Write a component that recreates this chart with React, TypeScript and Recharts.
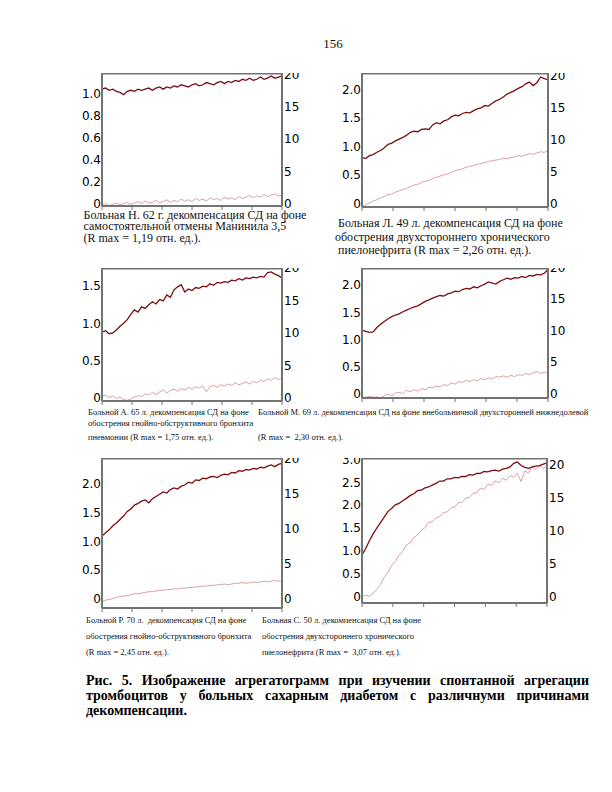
import { LineChart, Line, XAxis, YAxis, ReferenceLine } from 'recharts';

// samples are 6 s apart, 51 samples = 300 s record
const TIME_STEP = 6;
const xTicks = [0, 50, 100, 150, 200, 250, 300];
const rightTicks = [0, 5, 10, 15, 20];

const leftTicksA = [0, 0.2, 0.4, 0.6, 0.8, 1.0];
const leftTicksB = [0, 0.5, 1.0, 1.5, 2.0];
const leftTicksC = [0, 0.5, 1.0, 1.5];
const leftTicksD = [0, 0.5, 1.0, 1.5, 2.0, 2.5, 3.0];

// dark trace = degree of aggregation (left axis), light trace = right axis
const dark1 = [1.04, 1.05, 1.03, 1.04, 1.02, 1.01, 0.99, 1.02, 1.03, 1.02,
  1.04, 1.03, 1.04, 1.05, 1.03, 1.05, 1.06, 1.04, 1.06, 1.05,
  1.07, 1.06, 1.08, 1.07, 1.06, 1.08, 1.09, 1.07, 1.08, 1.10,
  1.09, 1.08, 1.10, 1.11, 1.09, 1.11, 1.10, 1.12, 1.11, 1.13,
  1.12, 1.14, 1.12, 1.13, 1.15, 1.13, 1.14, 1.16, 1.14, 1.15, 1.16];
const light1 = [-0.2, 0.0, -0.3, -0.1, 0.1, -0.2, 0.0, 0.2, -0.1, 0.1,
  0.3, 0.0, 0.4, 0.1, 0.2, 0.5, 0.1, 0.3, 0.6, 0.2,
  0.5, 0.3, 0.7, 0.4, 0.6, 0.3, 0.8, 0.5, 0.7, 0.4,
  0.9, 0.6, 0.8, 0.5, 1.0, 0.7, 0.9, 0.6, 1.1, 0.8,
  1.0, 1.3, 0.9, 1.2, 1.0, 1.4, 1.1, 1.3, 1.5, 1.2, 1.3];

const dark2 = [0.81, 0.79, 0.84, 0.86, 0.90, 0.93, 0.98, 1.04, 1.06, 1.10, 1.13,
  1.16, 1.20, 1.25, 1.27, 1.26, 1.30, 1.31, 1.30, 1.38, 1.42,
  1.40, 1.45, 1.47, 1.52, 1.55, 1.54, 1.58, 1.60, 1.59, 1.63,
  1.66, 1.68, 1.72, 1.71, 1.76, 1.80, 1.83, 1.87, 1.92, 1.95,
  1.98, 2.02, 2.05, 2.10, 2.13, 2.07, 2.12, 2.22, 2.19, 2.17];
const light2 = [-0.5, -0.2, 0.1, 0.4, 0.6, 0.9, 1.1, 1.4, 1.5, 1.8, 2.0,
  2.2, 2.4, 2.6, 2.9, 3.0, 3.3, 3.5, 3.6, 3.9, 4.1,
  4.3, 4.5, 4.6, 4.9, 5.1, 5.3, 5.4, 5.7, 5.8, 6.0,
  6.1, 6.3, 6.4, 6.6, 6.7, 6.8, 6.9, 7.1, 7.0, 7.2,
  7.3, 7.5, 7.4, 7.6, 7.8, 7.7, 7.9, 8.1, 8.0, 8.3];

const dark3 = [0.88, 0.90, 0.86, 0.87, 0.91, 0.96, 1.00, 1.05, 1.12, 1.18, 1.15,
  1.22, 1.20, 1.25, 1.29, 1.26, 1.32, 1.30, 1.38, 1.35, 1.45,
  1.49, 1.52, 1.42, 1.46, 1.44, 1.48, 1.47, 1.50, 1.49, 1.53,
  1.51, 1.55, 1.54, 1.56, 1.55, 1.58, 1.57, 1.60, 1.58, 1.61,
  1.60, 1.62, 1.61, 1.63, 1.62, 1.68, 1.69, 1.66, 1.64, 1.61];
const light3 = [0.2, 0.4, 0.0, 0.3, -0.1, 0.1, -0.3, -0.4, -0.2, 0.1, 0.3,
  0.2, 0.6, 0.4, 0.8, 0.5, 0.9, 1.2, 0.7, 1.1, 1.3,
  1.0, 1.4, 1.2, 1.6, 1.3, 1.7, 1.5, 1.8, 0.9, 1.7,
  1.9, 1.6, 2.0, 1.8, 2.1, 1.9, 2.3, 2.0, 2.2, 2.4,
  2.1, 2.5, 2.3, 2.7, 2.5, 2.9, 2.7, 3.1, 2.8, 3.0];

const dark4 = [1.17, 1.15, 1.13, 1.14, 1.22, 1.28, 1.33, 1.38, 1.42, 1.45, 1.47,
  1.51, 1.54, 1.57, 1.60, 1.62, 1.66, 1.70, 1.73, 1.76, 1.79,
  1.81, 1.80, 1.84, 1.86, 1.89, 1.88, 1.92, 1.94, 1.93, 1.97,
  1.95, 1.99, 2.02, 2.06, 2.04, 2.02, 2.07, 2.10, 2.13, 2.11,
  2.14, 2.13, 2.16, 2.14, 2.18, 2.17, 2.20, 2.19, 2.22, 2.29];
const light4 = [-0.5, -0.6, -0.4, -0.6, -0.5, -0.7, -0.3, -0.1, -0.4, 0.1, 0.2,
  0.0, 0.5, 0.3, 0.6, 0.4, 0.8, 0.6, 1.0, 0.9, 1.2,
  1.1, 1.4, 1.3, 1.7, 1.5, 1.9, 1.8, 2.1, 1.9, 2.2,
  2.0, 2.4, 2.2, 2.5, 2.3, 2.7, 2.6, 2.8, 2.6, 2.9,
  2.7, 3.0, 2.9, 3.2, 3.0, 3.3, 3.5, 3.2, 3.4, 3.2];

const dark5 = [1.09, 1.15, 1.20, 1.27, 1.32, 1.38, 1.44, 1.52, 1.56, 1.63, 1.66,
  1.70, 1.72, 1.67, 1.74, 1.78, 1.82, 1.86, 1.84, 1.90, 1.93,
  1.91, 1.96, 1.98, 2.03, 2.01, 2.07, 2.06, 2.10, 2.09, 2.12,
  2.13, 2.11, 2.15, 2.17, 2.16, 2.20, 2.19, 2.23, 2.22, 2.25,
  2.24, 2.27, 2.26, 2.29, 2.28, 2.31, 2.33, 2.30, 2.34, 2.36];
const light5 = [-0.4, -0.2, -0.1, 0.0, 0.2, 0.3, 0.4, 0.4, 0.6, 0.7, 0.7,
  0.8, 0.9, 1.0, 1.0, 1.1, 1.2, 1.2, 1.3, 1.3, 1.4,
  1.4, 1.5, 1.5, 1.6, 1.6, 1.7, 1.7, 1.8, 1.8, 1.9,
  1.9, 2.0, 2.0, 2.1, 2.0, 2.1, 2.2, 2.2, 2.3, 2.2,
  2.3, 2.4, 2.3, 2.4, 2.5, 2.4, 2.5, 2.6, 2.5, 2.5];

const dark6 = [0.91, 1.05, 1.22, 1.37, 1.50, 1.62, 1.74, 1.86, 1.93, 2.01, 2.04,
  2.10, 2.15, 2.21, 2.25, 2.32, 2.33, 2.38, 2.40, 2.44, 2.48,
  2.53, 2.53, 2.58, 2.58, 2.61, 2.60, 2.63, 2.63, 2.67, 2.66,
  2.70, 2.70, 2.74, 2.73, 2.76, 2.77, 2.75, 2.79, 2.81, 2.84,
  2.92, 2.95, 2.87, 2.83, 2.81, 2.84, 2.86, 2.87, 2.90, 2.93];
const light6 = [0.0, 0.2, 0.0, 0.5, 1.1, 1.8, 2.9, 3.6, 4.7, 5.3, 6.2,
  6.8, 7.8, 8.1, 8.9, 9.3, 10.0, 10.4, 11.2, 11.3, 11.9,
  12.1, 12.7, 12.8, 13.4, 13.5, 14.2, 14.2, 14.9, 15.0, 15.6,
  15.7, 16.4, 16.2, 17.0, 16.8, 17.5, 17.2, 17.9, 17.6, 18.3,
  18.1, 18.6, 17.4, 19.0, 18.7, 19.6, 19.2, 19.8, 19.4, 19.8];

const FRAME = '#737373';
const DARK = '#7a0f14';
const LIGHT = '#d4979a';

// plot boxes on the page and axis ranges
const panels = [
  { dark: dark1, light: light1, ticks: leftTicksA, x0: 102, x1: 282, y0: 73, y1: 206, left: [-0.022, 1.187], right: [-0.37, 20.28] },
  { dark: dark2, light: light2, ticks: leftTicksB, x0: 362, x1: 548, y0: 73, y1: 207, left: [-0.06, 2.29], right: [-0.53, 20.4] },
  { dark: dark3, light: light3, ticks: leftTicksC, x0: 102, x1: 282, y0: 268, y1: 401, left: [-0.044, 1.743], right: [-0.51, 20.0] },
  { dark: dark4, light: light4, ticks: leftTicksB, x0: 362, x1: 548, y0: 268, y1: 398, left: [-0.081, 2.317], right: [-0.7, 19.94] },
  { dark: dark5, light: light5, ticks: leftTicksB, x0: 102, x1: 282, y0: 458, y1: 608, left: [-0.162, 2.451], right: [-1.33, 20.1] },
  { dark: dark6, light: light6, ticks: leftTicksD, x0: 362, x1: 547, y0: 458, y1: 603, left: [-0.145, 3.036], right: [-1.0, 20.97] },
];

const tickFont = { fill: '#000', fontSize: 12, fontFamily: '"DejaVu Sans", Verdana, sans-serif' };
const NoLabel = () => <g />;

function Panel({ p }: { p: any }) {
  const wl = 30;
  const wr = 26;
  const hx = 10;
  const w = p.x1 - p.x0 + wl + wr;
  const h = p.y1 - p.y0 + hx;
  const data = p.dark.map((v: number, i: number) => ({ t: i * TIME_STEP, a: v, b: p.light[i] }));
  return (
    <div style={{ position: 'absolute', left: p.x0 - wl, top: p.y0, width: w, height: h, overflow: 'hidden' }}>
      <LineChart width={w} height={h} data={data} margin={{ top: 0, right: 0, bottom: 0, left: 0 }}>
        <XAxis
          dataKey="t"
          type="number"
          domain={[0, 300]}
          ticks={xTicks}
          allowDataOverflow
          tick={NoLabel}
          tickSize={4}
          height={hx}
          stroke={FRAME}
          axisLine={{ stroke: FRAME, strokeWidth: 2 }}
          tickLine={{ stroke: FRAME, strokeWidth: 1 }}
        />
        <YAxis
          yAxisId="l"
          orientation="left"
          width={wl}
          type="number"
          domain={p.left}
          ticks={p.ticks}
          allowDataOverflow
          interval={0}
          tickLine={false}
          tickSize={0}
          tickMargin={1}
          stroke={FRAME}
          axisLine={{ stroke: FRAME, strokeWidth: 2 }}
          tick={tickFont}
          tickFormatter={(v: number) => (v === 0 ? '0' : v.toFixed(1))}
        />
        <YAxis
          yAxisId="r"
          orientation="right"
          width={wr}
          type="number"
          domain={p.right}
          ticks={rightTicks}
          allowDataOverflow
          interval={0}
          tickLine={false}
          tickSize={0}
          tickMargin={2}
          stroke={FRAME}
          axisLine={{ stroke: FRAME, strokeWidth: 2 }}
          tick={tickFont}
        />
        {/* plot frame */}
        <ReferenceLine yAxisId="l" y={p.left[1]} stroke={FRAME} strokeWidth={3} ifOverflow="visible" />
        <ReferenceLine yAxisId="l" y={p.left[0]} stroke={FRAME} strokeWidth={2} ifOverflow="visible" />
        <ReferenceLine yAxisId="l" x={0} stroke={FRAME} strokeWidth={2} ifOverflow="visible" />
        <ReferenceLine yAxisId="l" x={300} stroke={FRAME} strokeWidth={2} ifOverflow="visible" />
        <Line yAxisId="r" dataKey="b" type="linear" stroke={LIGHT} strokeWidth={0.9} dot={false} activeDot={false} isAnimationActive={false} />
        <Line yAxisId="l" dataKey="a" type="linear" stroke={DARK} strokeWidth={1.3} dot={false} activeDot={false} isAnimationActive={false} />
      </LineChart>
    </div>
  );
}

const captionBig1 = ['Больная Н. 62 г. декомпенсация СД на фоне', 'самостоятельной отмены Манинила 3,5', '(R max = 1,19 отн. ед.).'];
const captionBig2 = ['Больная Л. 49 л. декомпенсация СД на фоне', 'обострения двухстороннего хронического', 'пиелонефрита (R max = 2,26 отн. ед.).'];
const caption3 = ['Больной А. 65 л. декомпенсация СД на фоне', 'обострения гнойно-обструктивного бронхита', 'пневмонии (R max = 1,75 отн. ед.).'];
const caption4 = ['Больной М. 69 л. декомпенсация СД на фоне внебольничной двухсторонней нижнедолевой', '(R max =  2,30 отн. ед.).'];
const caption5 = ['Больной Р. 70 л.  декомпенсация СД на фоне', 'обострения гнойно-обструктивного бронхита', '(R max = 2,45 отн. ед.).'];
const caption6 = ['Больная С. 50 л. декомпенсация СД на фоне', 'обострения двухстороннего хронического', 'пиелонефрита (R max =  3,07 отн. ед.).'];

const captionBlocks = [
  { lines: captionBig1, x: [83.5, 83.5, 83.5], y: [214.5, 226, 237.5], size: 12 },
  { lines: captionBig2, x: [338, 335, 338], y: [223, 236.5, 250], size: 12 },
  { lines: caption3, x: [88, 88, 88], y: [412, 423, 437], size: 8.5 },
  { lines: caption4, x: [258, 258], y: [412, 437], size: 8.5 },
  { lines: caption5, x: [86, 86, 86], y: [620, 636, 652], size: 8.5 },
  { lines: caption6, x: [262, 262, 262], y: [620, 636, 652], size: 8.5 },
];

export default function App() {
  return (
    <div
      style={{
        position: 'absolute',
        left: 0,
        top: 0,
        width: 612,
        height: 792,
        background: '#fff',
        fontFamily: '"Liberation Serif", "Times New Roman", serif',
        color: '#111',
      }}
    >
      <div style={{ position: 'absolute', left: 313, top: 36, width: 40, textAlign: 'center', fontSize: 13, lineHeight: '16px' }}>156</div>

      {panels.map((p, i) => (
        <Panel key={i} p={p} />
      ))}

      {captionBlocks.map((c, i) =>
        c.lines.map((t, j) => (
          <div
            key={`${i}-${j}`}
            style={{
              position: 'absolute',
              left: c.x[j],
              top: c.y[j] - c.size * 0.5,
              fontSize: c.size,
              lineHeight: `${c.size}px`,
              whiteSpace: 'pre',
            }}
          >
            {t}
          </div>
        ))
      )}

      <div
        style={{
          position: 'absolute',
          left: 86,
          top: 673,
          width: 503,
          fontSize: 14,
          lineHeight: '15px',
          fontWeight: 'bold',
          textAlign: 'justify',
          color: '#000',
        }}
      >
        Рис. 5. Изображение агрегатограмм при изучении спонтанной агрегации тромбоцитов у больных сахарным диабетом с различнуми причинами декомпенсации.
      </div>
    </div>
  );
}
